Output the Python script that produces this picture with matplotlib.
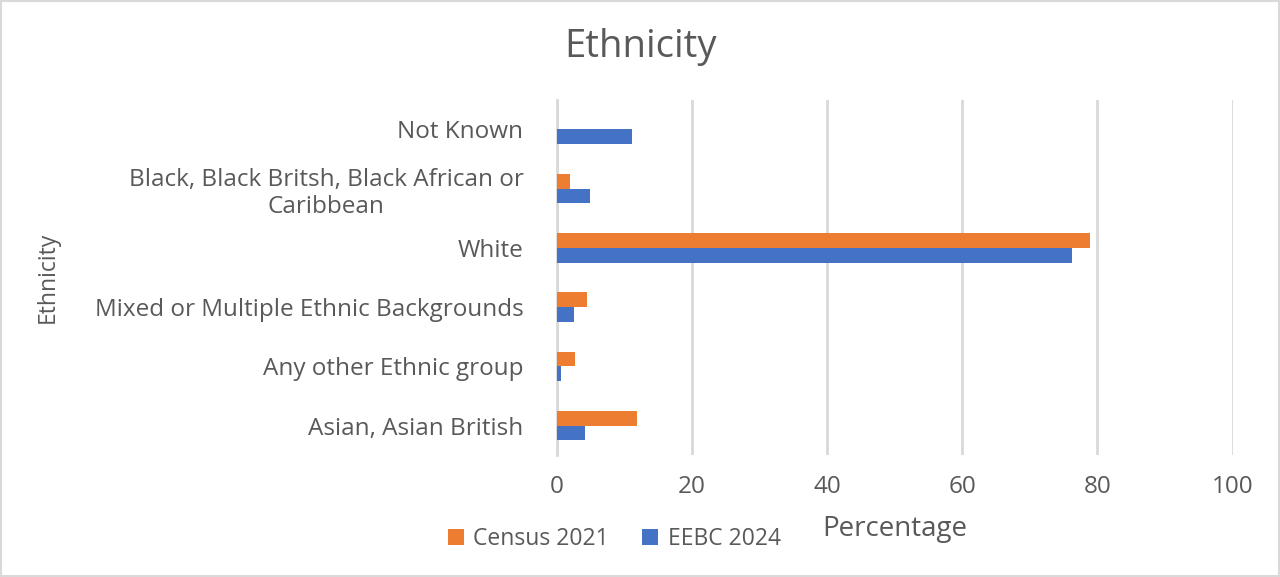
import numpy as np
import matplotlib.pyplot as plt

plt.rcParams['font.family'] = ['Open Sans', 'DejaVu Sans']

categories = ['Asian, Asian British', 'Any other Ethnic group',
              'Mixed or Multiple Ethnic Backgrounds', 'White',
              'Black, Black Britsh, Black African or\nCaribbean', 'Not Known']
census_2021 = [11.8, 2.7, 4.4, 78.9, 1.9, 0.0]
eebc_2024 = [4.2, 0.6, 2.5, 76.3, 4.9, 11.2]

txt = '#595959'
fig = plt.figure(figsize=(12.8, 5.77), dpi=100)
ax = fig.add_axes([0.435, 0.211, 0.528, 0.616])

y = np.arange(len(categories))
h = 0.25
ax.barh(y + h / 2, census_2021, height=h, color='#ed7d31', label='Census 2021', zorder=3)
ax.barh(y - h / 2, eebc_2024, height=h, color='#4472c4', label='EEBC 2024', zorder=3)

ax.set_xlim(0, 100)
ax.set_ylim(-0.5, len(categories) - 0.5)
ax.set_xticks(range(0, 101, 20))
ax.set_yticks(y)
ax.set_yticklabels(categories)
for lab in ax.get_yticklabels():
    lab.set_multialignment('center')
    lab.set_linespacing(1.2)
ax.tick_params(length=0, labelsize=17.5, colors=txt)
ax.tick_params(axis='y', pad=24)
ax.tick_params(axis='x', pad=14)
ax.grid(axis='x', color='#d9d9d9', linewidth=2, zorder=0)
for s in ['top', 'right', 'bottom']:
    ax.spines[s].set_visible(False)
ax.spines['left'].set_color('#d9d9d9')
ax.spines['left'].set_linewidth(2)

ax.set_xlabel('Percentage', fontsize=20, color=txt, labelpad=12)
fig.text(0.037, 0.52, 'Ethnicity', rotation=90, fontsize=16.5, color=txt,
         ha='center', va='center')
fig.text(0.5, 0.918, 'Ethnicity', fontsize=27.5, color=txt, ha='center', va='center')

fig.legend(loc='center', bbox_to_anchor=(0.48, 0.066), ncol=2, frameon=False,
           fontsize=16.5, labelcolor=txt, handlelength=0.7, handleheight=0.7,
           handletextpad=0.4, columnspacing=1.45)

fig.patches.append(plt.Rectangle((0.001, 0.002), 0.998, 0.996, transform=fig.transFigure,
                                 fill=False, edgecolor='#d9d9d9', linewidth=1.5))

fig.savefig('out.png', dpi=100)
